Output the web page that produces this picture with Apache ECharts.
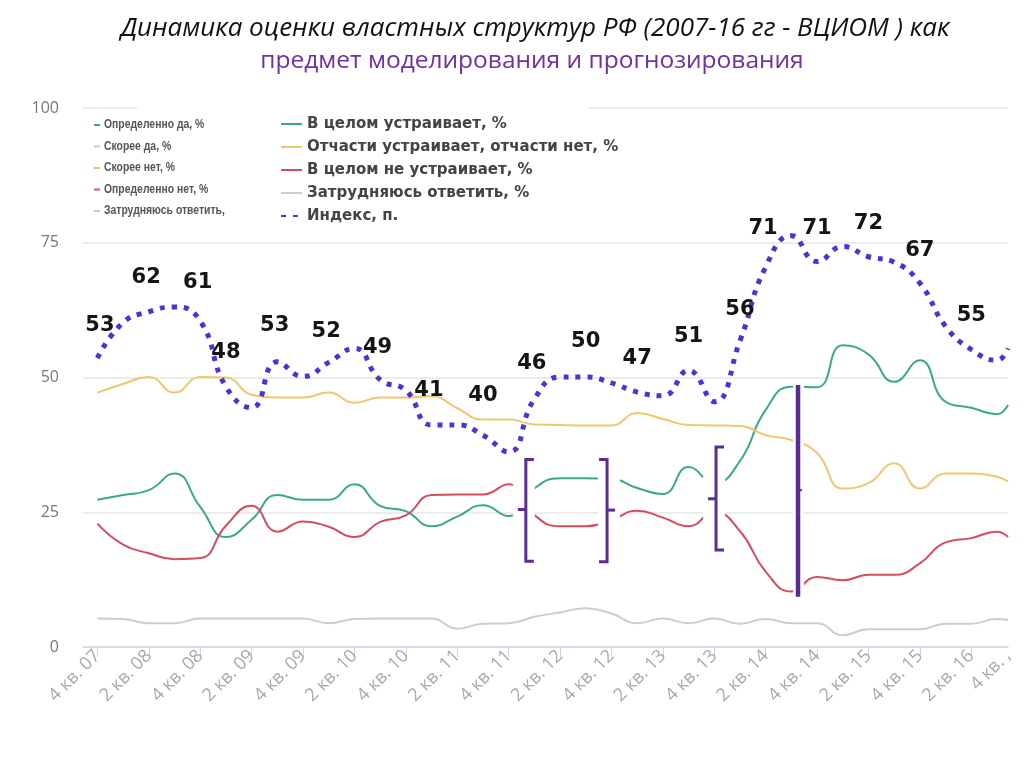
<!DOCTYPE html>
<html><head><meta charset="utf-8">
<script src="https://cdn.jsdelivr.net/npm/echarts@6/dist/echarts.min.js"></script>
<style>html,body{margin:0;padding:0;background:#fff}#c{width:1024px;height:767px}</style>
</head><body><div id="c"></div>
<script>
// x positions in quarters (0 = 4 кв. 07); last point at the right edge
const quarterPos = [0,1,2,3,4,5,6,7,8,9,10,11,12,13,14,15,16,17,18,19,20,21,22,23,24,25,26,27,28,29,30,31,32,33,34,35,35.43];
const tickPos = [0,2,4,6,8,10,12,14,16,18,20,22,24,26,28,30,32,34];
const tickLabels = ['4 кв. 07','2 кв. 08','4 кв. 08','2 кв. 09','4 кв. 09','2 кв. 10','4 кв. 10','2 кв. 11','4 кв. 11','2 кв. 12','4 кв. 12','2 кв. 13','4 кв. 13','2 кв. 14','4 кв. 14','2 кв. 15','4 кв. 15','2 кв. 16'];
const lastTick = 35.43;
const lastLabel = '4 кв. ,';

const seriesNames = ['В целом устраивает, %','Отчасти устраивает, отчасти нет, %','В целом не устраивает, %','Затрудняюсь ответить, %','Индекс, п.'];
const satisfied   = [27.3,28.2,29.1,32.2,26.0,20.4,23.6,28.2,27.3,27.3,30.2,26.2,25.2,22.4,24.2,26.3,24.3,29.4,31.3,31.3,31.2,29.5,28.4,33.4,30.4,34.5,44.0,48.3,48.2,56.0,54.3,49.2,53.2,45.5,44.4,43.2,44.9];
const partly      = [47.2,48.8,50.1,47.2,50.1,50.0,46.8,46.3,46.3,47.2,45.3,46.3,46.3,46.5,44.3,42.2,42.2,41.3,41.2,41.1,41.1,43.4,42.3,41.2,41.1,41.0,39.3,38.4,36.0,29.4,30.4,34.1,29.4,32.2,32.2,31.6,30.7];
const notSatisfied= [22.9,19.0,17.4,16.3,16.5,22.5,26.2,21.4,23.3,22.3,20.4,23.2,24.4,28.2,28.3,28.3,30.2,24.5,22.4,22.4,23.5,25.3,24.0,22.4,25.0,21.5,14.0,10.3,13.0,12.4,13.4,13.4,15.5,19.4,20.2,21.4,20.4];
const hardToSay   = [5.3,5.2,4.4,4.4,5.3,5.3,5.3,5.3,5.3,4.4,5.2,5.3,5.3,5.3,3.4,4.3,4.4,5.6,6.4,7.2,6.2,4.4,5.3,4.4,5.3,4.3,5.2,4.4,4.4,2.2,3.3,3.3,3.3,4.3,4.3,5.2,5.0];
const indexVals   = [53.6,60.2,62.2,63.1,60.5,48.3,44.4,52.9,50.2,52.8,55.4,49.6,47.6,41.2,41.2,39.3,36.2,46.0,50.1,50.1,49.0,47.3,46.6,51.3,45.5,56.8,70.5,76.3,71.5,74.3,72.4,71.4,67.5,59.5,55.2,53.2,55.4];

// annotated index values
const idxLabelQ   = [0.1,1.9,3.9,5,6.9,8.9,10.9,12.9,15,16.9,19,21,23,25,25.9,28,30,32,34];
const idxLabelVal = [53,62,61,48,53,52,49,41,40,46,50,47,51,56,71,71,72,67,55];

// bracket annotations (quarter position, top, bottom, middle, side)
const bracketQ      = [16.67,19.83,24.07,27.26];
const bracketTop    = [34.8,34.8,37.1,48.6];
const bracketBottom = [15.9,15.8,18.0,9.3];
const bracketMid    = [25.5,25.4,27.5,29.1];
const bracketSide   = [-1,1,-1,1];

// second (pasted) legend
const oldLegendNames = ['Определенно да, %','Скорее да, %','Скорее нет, %','Определенно нет, %','Затрудняюсь ответить,'];
const oldLegendColors = ['#3aa98b','#bcd3cb','#f2b27c','#e0506a','#c9c9c9'];

const colors = ['#3aa98b','#f0c66e','#d64b60','#cdcdcd','#5032d2'];
const values = [satisfied, partly, notSatisfied, hardToSay, indexVals];
const pair = arr => quarterPos.map((q,i)=>[q, arr[i]]);

const lineSeries = values.map((arr, k) => ({
  type: 'line', name: seriesNames[k], data: pair(arr), smooth: true, symbol: 'none',
  z: k === 4 ? 4 : 2,
  lineStyle: k === 4 ? {color: colors[k], width: 5, type: [5, 7], cap: 'butt'} : {color: colors[k], width: 2},
  itemStyle: {color: colors[k]}
}));

const chart = echarts.init(document.getElementById('c'));
chart.setOption({
  animation: false,
  title: [
    {text: 'Динамика оценки властных структур РФ (2007-16 гг - ВЦИОМ ) как', left: 530, top: 11, textAlign: 'center',
     textStyle: {fontFamily: 'Open Sans', fontStyle: 'italic', fontWeight: 'normal', fontSize: 26, color: '#111'}},
    {text: 'предмет моделирования и прогнозирования', left: 527, top: 44, textAlign: 'center',
     textStyle: {fontFamily: 'Open Sans', fontWeight: 'normal', fontSize: 24.5, color: '#7030a0'}}
  ],
  legend: {
    data: seriesNames, orient: 'vertical', left: 275, top: 111.5, itemWidth: 21, itemHeight: 12, itemGap: 8,
    itemStyle: {opacity: 0},
    textStyle: {fontFamily: 'DejaVu Sans', fontWeight: 'bold', fontSize: 15, color: '#444'},
    selectedMode: false
  },
  grid: {left: 83, right: 16, top: 108, bottom: 120},
  xAxis: {
    type: 'value', min: -0.56, max: lastTick,
    axisLine: {show: true, lineStyle: {color: '#ccd6eb', width: 1.5}},
    axisTick: {show: true, length: 10, lineStyle: {color: '#ccd6eb'}, customValues: tickPos},
    axisLabel: {customValues: tickPos.concat([lastTick]), rotate: 45, color: '#a8a8a8', fontSize: 18, margin: 6,
      fontFamily: 'Open Sans', showMaxLabel: true, showMinLabel: true,
      formatter: v => { const r = Math.round(v*100)/100; const i = tickPos.indexOf(r); return i >= 0 ? tickLabels[i] : (Math.abs(r - lastTick) < 0.02 ? lastLabel : ''); }},
    splitLine: {show: false}
  },
  yAxis: {
    type: 'value', min: 0, max: 100, interval: 25,
    axisLine: {show: false}, axisTick: {show: false},
    axisLabel: {color: '#777', fontSize: 16, margin: 24, fontFamily: 'Open Sans'},
    splitLine: {lineStyle: {color: '#e6e6e6', width: 1.5}}
  },
  graphic: [
    {type: 'rect', left: 137, top: 103, shape: {width: 451, height: 9}, style: {fill: '#fff'}, z: 100},
    ...oldLegendNames.map((t, i) => ({
      type: 'group', left: 94, top: 118 + i * 21.5, z: 100,
      children: [
        {type: 'rect', shape: {x: 0, y: 6, width: 6, height: 2}, style: {fill: oldLegendColors[i]}},
        {type: 'text', x: 10, y: 0, scaleX: 0.8, style: {text: t, font: 'bold 13px "Liberation Sans"', fill: '#555'}}
      ]
    }))
  ],
  series: [
    ...lineSeries,
    {
      type: 'scatter', name: 'labels', data: idxLabelQ.map((q,i)=>[q, idxLabelVal[i]]), symbolSize: 0, silent: true, z: 6,
      label: {show: true, position: 'top', distance: 25, formatter: p => String(p.value[1]),
        fontFamily: 'DejaVu Sans', fontWeight: 'bold', fontSize: 21, color: '#151515', opacity: 1},
      itemStyle: {opacity: 1}
    },
    {
      type: 'custom', name: 'brackets', z: 5, silent: true, clip: false,
      data: bracketQ.map((q,i)=>[q, bracketTop[i], bracketBottom[i], bracketMid[i], bracketSide[i]]),
      encode: {x: 0, y: [1, 2]},
      renderItem: (params, api) => {
        const t = api.coord([api.value(0), api.value(1)]);
        const b = api.coord([api.value(0), api.value(2)]);
        const m = api.coord([api.value(0), api.value(3)]);
        const side = api.value(4);
        const last = params.dataIndex === 3;
        const px = t[0], yt = t[1], yb = b[1], ym = m[1];
        const purple = '#5a2d91';
        const children = [];
        let gl, gr;
        if (last) { gl = 5; gr = 6; } else if (side < 0) { gl = 13; gr = 9; } else { gl = 9; gr = 13; }
        children.push({type: 'rect', shape: {x: px - gl, y: yt - 2, width: gl + gr, height: yb - yt + 4}, style: {fill: '#fff'}});
        if (last) {
          children.push({type: 'line', shape: {x1: px, y1: yt, x2: px, y2: yb}, style: {stroke: purple, lineWidth: 4.5}});
          children.push({type: 'line', shape: {x1: px, y1: ym, x2: px + 4, y2: ym}, style: {stroke: purple, lineWidth: 2}});
        } else {
          const s = -side * 8;
          children.push({type: 'polyline', shape: {points: [[px + s, yt], [px, yt], [px, yb], [px + s, yb]]},
            style: {stroke: purple, lineWidth: 3, fill: null, lineJoin: 'miter'}});
          children.push({type: 'line', shape: {x1: px, y1: ym, x2: px + side * 8, y2: ym}, style: {stroke: purple, lineWidth: 3}});
        }
        return {type: 'group', children};
      }
    }
  ]
});
</script>
</body></html>
